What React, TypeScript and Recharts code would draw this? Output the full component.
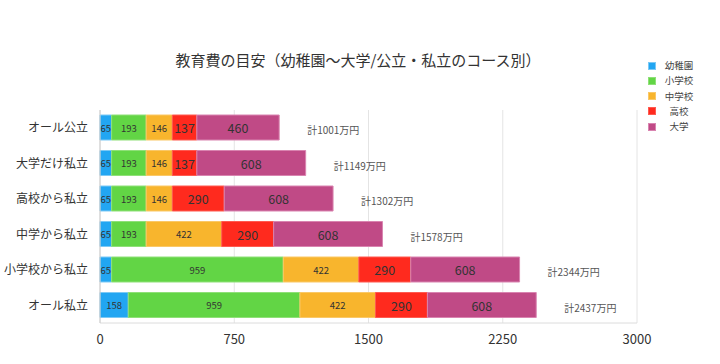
import React from 'react';
import { BarChart, Bar, XAxis, YAxis, CartesianGrid, LabelList } from 'recharts';

const categories = ['オール公立', '大学だけ私立', '高校から私立', '中学から私立', '小学校から私立', 'オール私立'];
const kindergarten = [65, 65, 65, 65, 65, 158];
const elementary = [193, 193, 193, 193, 959, 959];
const juniorHigh = [146, 146, 146, 422, 422, 422];
const highSchool = [137, 137, 290, 290, 290, 290];
const university = [460, 608, 608, 608, 608, 608];
const totals = [1001, 1149, 1302, 1578, 2344, 2437];
const xTicks = [0, 750, 1500, 2250, 3000];

const seriesNames = ['幼稚園', '小学校', '中学校', '高校', '大学'];
const seriesKeys = ['kindergarten', 'elementary', 'juniorHigh', 'highSchool', 'university'];
const fills = ['#22A6F2', '#62D545', '#F8B52D', '#FF2A1E', '#C04A86'];
const strokes = ['#7CC9F5', '#8FE078', '#FAC867', '#FF5A50', '#D984B0'];
const labelSizes = [9.5, 9.5, 9.5, 12.5, 12.5];

const data = categories.map((name, i) => ({
  name,
  kindergarten: kindergarten[i],
  elementary: elementary[i],
  juniorHigh: juniorHigh[i],
  highSchool: highSchool[i],
  university: university[i],
  total: totals[i],
}));

const FONT = '"Noto Sans CJK JP", "Noto Sans", sans-serif';

const makeInner = (size: number) => (props: any) => {
  const { x, y, width, height, value } = props;
  return (
    <text
      x={x + width / 2}
      y={y + height / 2}
      textAnchor="middle"
      dominantBaseline="central"
      fontSize={size}
      fill="#333"
      fontFamily={FONT}
    >
      {value}
    </text>
  );
};

const TotalLabel = (props: any) => {
  const { x, y, width, height, value } = props;
  return (
    <text
      x={x + width + 28}
      y={y + height / 2 + 2}
      textAnchor="start"
      dominantBaseline="central"
      fontSize={10}
      fill="#555"
      fontFamily={FONT}
    >
      {`計${value}万円`}
    </text>
  );
};

export default function App() {
  return (
    <div style={{ position: 'absolute', left: 0, top: 0, width: 720, height: 364, background: '#fff', fontFamily: FONT }}>
      <div
        style={{
          position: 'absolute',
          left: 0,
          width: 716,
          top: 49,
          textAlign: 'center',
          fontSize: 15,
          color: '#333',
          lineHeight: '22px',
        }}
      >
        教育費の目安（幼稚園〜大学/公立・私立のコース別）
      </div>
      <div style={{ position: 'absolute', left: 648, top: 60 }}>
        {seriesNames.map((n, i) => (
          <div key={n} style={{ position: 'absolute', top: i * 15.3, left: 0, height: 12, width: 60 }}>
            <div
              style={{
                position: 'absolute',
                left: 0,
                top: 1.5,
                width: 8,
                height: 8,
                background: fills[i],
                border: `1px solid ${strokes[i]}`,
                boxSizing: 'border-box',
              }}
            />
            <div
              style={{
                position: 'absolute',
                left: 16,
                width: 30,
                top: -1,
                textAlign: 'center',
                fontSize: 9.5,
                color: '#444',
                lineHeight: '13px',
              }}
            >
              {n}
            </div>
          </div>
        ))}
      </div>
      <BarChart
        width={720}
        height={364}
        data={data}
        layout="vertical"
        margin={{ top: 110, right: 83, bottom: 11, left: 0 }}
        style={{ position: 'absolute', left: 0, top: 0 }}
      >
        <CartesianGrid horizontal={false} stroke="#e4e4e4" />
        <XAxis
          type="number"
          domain={[0, 3000]}
          ticks={xTicks}
          tickLine={false}
          axisLine={{ stroke: '#dcdcdc' }}
          tick={{ fontSize: 13, fill: '#333', fontFamily: FONT }}
          height={30}
          tickMargin={6}
        />
        <YAxis
          type="category"
          dataKey="name"
          width={100}
          tickLine={false}
          axisLine={{ stroke: '#cccccc' }}
          tick={{ fontSize: 12, fill: '#333', fontFamily: FONT }}
          tickMargin={6}
        />
        {seriesKeys.map((k, i) => (
          <Bar
            key={k}
            dataKey={k}
            name={seriesNames[i]}
            stackId="a"
            fill={fills[i]}
            stroke={strokes[i]}
            strokeWidth={1}
            barSize={25}
            isAnimationActive={false}
          >
            <LabelList dataKey={k} content={makeInner(labelSizes[i])} />
            {k === 'university' ? <LabelList dataKey="total" content={TotalLabel} /> : null}
          </Bar>
        ))}
      </BarChart>
    </div>
  );
}
